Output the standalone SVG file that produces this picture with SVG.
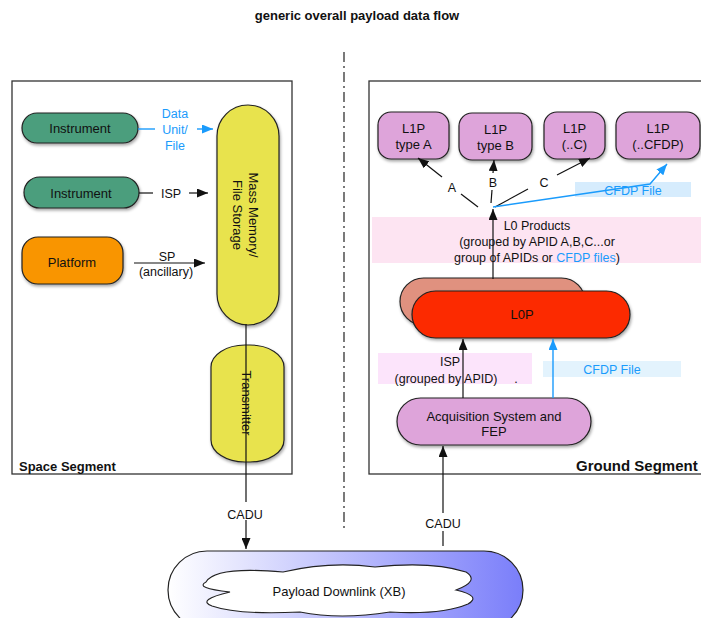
<svg xmlns="http://www.w3.org/2000/svg" width="701" height="618" viewBox="0 0 701 618">
<defs>
<style>
text{font-family:"Liberation Sans",Arial,sans-serif;font-size:13px;fill:#111;}
.c{text-anchor:middle;}
.b{font-weight:bold;}
.blue{fill:#1a9bfc;}
.seg{fill:#fff;stroke:#333;stroke-width:1.3;}
.node{stroke:#222;stroke-width:1.2;filter:url(#sh);}
.ln{stroke:#111;stroke-width:1.2;fill:none;}
.lb{stroke:#1a9bfc;stroke-width:1.4;fill:none;}
.green{fill:#4b9e7d;}
.orange{fill:#f99500;}
.yellow{fill:#e8e34e;}
.purple{fill:#dea4da;}
</style>
<filter id="sh" x="-20%" y="-20%" width="140%" height="150%">
<feDropShadow dx="1" dy="2" stdDeviation="1.5" flood-color="#000" flood-opacity="0.35"/>
</filter>
<marker id="ab" markerUnits="userSpaceOnUse" markerWidth="12" markerHeight="9" refX="11" refY="4.5" orient="auto">
<path d="M0,0 L11,4.5 L0,9 z" fill="#111"/>
</marker>
<marker id="abl" markerUnits="userSpaceOnUse" markerWidth="12" markerHeight="9" refX="11" refY="4.5" orient="auto">
<path d="M0,0 L11,4.5 L0,9 z" fill="#1a9bfc"/>
</marker>
<linearGradient id="gd" x1="0" y1="0" x2="1" y2="0">
<stop offset="0" stop-color="#ffffff"/>
<stop offset="1" stop-color="#7a7efa"/>
</linearGradient>
</defs>

<rect width="701" height="618" fill="#fff"/>
<text class="c b" x="357" y="20">generic overall payload data flow</text>

<g id="divider">
<line x1="344" y1="52" x2="344" y2="530" stroke="#222" stroke-width="1.2" stroke-dasharray="10 4 2 4"/>
</g>

<g id="space-segment">
<rect class="seg" x="12" y="81" width="280" height="393"/>
<text class="b" x="19" y="471">Space Segment</text>
</g>
<g id="ground-segment">
<rect class="seg" x="369" y="81" width="360" height="393"/>
<text class="b" x="576" y="471" style="font-size:15px">Ground Segment</text>
</g>

<g id="label-bgs">
<rect x="372" y="217" width="329" height="46" fill="#fde4f2"/>
<rect x="575" y="182" width="116" height="15" fill="#d6ecfd"/>
<rect x="378" y="353" width="154" height="31" fill="#fce4fb"/>
<rect x="543" y="361" width="138" height="16" fill="#e3f3fd"/>
</g>

<g id="instrument1"><rect class="node green" x="22" y="113" width="116" height="30" rx="15"/><text class="c" x="80" y="132.5">Instrument</text></g>
<g id="instrument2"><rect class="node green" x="24" y="177" width="115" height="31" rx="15.5"/><text class="c" x="81" y="197.5">Instrument</text></g>
<g id="platform"><rect class="node orange" x="22" y="237" width="101" height="47" rx="16"/><text class="c" x="72" y="266.5">Platform</text></g>
<g id="mass-memory"><rect class="node yellow" x="217" y="105" width="62" height="220" rx="31"/>
<g transform="translate(246,215) rotate(90)"><text class="c" x="0" y="-3">Mass Memory/</text><text class="c" x="0" y="13">File Storage</text></g></g>
<g id="transmitter"><rect class="node yellow" x="211" y="345" width="73" height="117" rx="34" ry="22"/>
<g transform="translate(246,403) rotate(90)"><text class="c" x="0" y="4.5">Transmitter</text></g></g>

<g id="l1p-a"><rect class="node purple" x="378" y="112" width="71" height="47" rx="13"/><text class="c" x="413.5" y="133">L1P</text><text class="c" x="413.5" y="149">type A</text></g>
<g id="l1p-b"><rect class="node purple" x="459" y="113" width="73" height="47" rx="13"/><text class="c" x="495.5" y="134">L1P</text><text class="c" x="495.5" y="150">type B</text></g>
<g id="l1p-c"><rect class="node purple" x="544" y="112" width="61" height="47" rx="13"/><text class="c" x="574.5" y="133">L1P</text><text class="c" x="574.5" y="149">(..C)</text></g>
<g id="l1p-cfdp"><rect class="node purple" x="616" y="112" width="84" height="47" rx="13"/><text class="c" x="658" y="133">L1P</text><text class="c" x="658" y="149">(..CFDP)</text></g>

<g id="l0p"><rect class="node" fill="#e0917f" x="400" y="278" width="185" height="47" rx="23.5"/><rect class="node" fill="#fc2a00" x="412" y="291" width="218" height="47" rx="23.5"/><text class="c" x="522" y="318.5">L0P</text></g>

<g id="acquisition"><rect class="node purple" x="397" y="398" width="194" height="47" rx="23.5"/><text class="c" x="494" y="420.5">Acquisition System and</text><text class="c" x="494" y="436">FEP</text></g>

<g id="payload-downlink">
<rect x="168" y="551" width="355" height="78" rx="39" fill="url(#gd)" stroke="#222" stroke-width="1.2"/>
<path d="M206 582 Q215 566 283 572 Q330 561 375 567 Q432 561 466 572 Q480 581 456 590 Q482 596 468 604 Q442 615 390 612 Q340 620 300 612 Q238 615 212 606 Q196 600 230 592 Q194 588 206 582 Z" fill="#fff" stroke="#222" stroke-width="1.1"/>
<text class="c" x="339" y="595.5">Payload Downlink (XB)</text>
</g>

<g id="connectors">
<line class="lb" x1="138" y1="129" x2="155" y2="129"/>
<line class="lb" x1="197" y1="129" x2="213" y2="129" marker-end="url(#abl)"/>
<line class="ln" x1="139" y1="193" x2="153" y2="193"/>
<line class="ln" x1="189" y1="193" x2="208" y2="193" marker-end="url(#ab)"/>
<line class="ln" x1="134" y1="263" x2="205" y2="263" marker-end="url(#ab)"/>
<line class="ln" x1="246" y1="324" x2="246" y2="502"/>
<line class="ln" x1="246" y1="520" x2="246" y2="549" marker-end="url(#ab)"/>
<line class="ln" x1="443" y1="546" x2="443" y2="531"/>
<line class="ln" x1="443" y1="513" x2="443" y2="446" marker-end="url(#ab)"/>
<line class="ln" x1="463" y1="398" x2="463" y2="339" marker-end="url(#ab)"/>
<line class="lb" x1="553" y1="398" x2="553" y2="339" marker-end="url(#abl)"/>
<line class="ln" x1="493" y1="279" x2="493" y2="209" marker-end="url(#ab)"/>
<line class="ln" x1="478" y1="207" x2="461" y2="194"/>
<line class="ln" x1="442" y1="177" x2="418" y2="158" marker-end="url(#ab)"/>
<line class="ln" x1="491" y1="203" x2="492" y2="190"/>
<line class="ln" x1="493" y1="173" x2="494" y2="160" marker-end="url(#ab)"/>
<line class="ln" x1="495" y1="207" x2="528" y2="189"/>
<line class="ln" x1="557" y1="175" x2="590" y2="158" marker-end="url(#ab)"/>
<polyline class="lb" points="493,207 650,184 667,164" marker-end="url(#abl)"/>
</g>

<g id="labels">
<text class="c blue" x="175" y="118" style="font-size:12.5px">Data</text>
<text class="c blue" x="175" y="134" style="font-size:12.5px">Unit/</text>
<text class="c blue" x="175" y="150" style="font-size:12.5px">File</text>
<text class="c" x="171" y="197.5" style="font-size:12.5px">ISP</text>
<text class="c" x="167" y="260.5" style="font-size:12.5px">SP</text>
<text class="c" x="166" y="276" style="font-size:12.5px">(ancillary)</text>
<text class="c" x="245" y="518.5" style="font-size:12.5px">CADU</text>
<text class="c" x="443" y="528" style="font-size:12.5px">CADU</text>
<text class="c" x="452" y="191.5" style="font-size:12.5px">A</text>
<text class="c" x="493" y="186.5" style="font-size:12.5px">B</text>
<text class="c" x="544" y="186.5" style="font-size:12.5px">C</text>
<text class="c blue" x="633" y="194.5" style="font-size:12.5px">CFDP File</text>
<text class="c" x="537" y="229.5" style="font-size:12.5px">L0 Products</text>
<text class="c" x="537" y="246" style="font-size:12.5px">(grouped by APID A,B,C...or</text>
<text class="c" x="537" y="261.5" style="font-size:12.5px">group of APIDs or <tspan class="blue">CFDP files</tspan>)</text>
<text class="c" x="450" y="365.5" style="font-size:12.5px">ISP</text>
<text class="c" x="446" y="382.5" style="font-size:12.5px">(grouped by APID)</text>
<text class="c" x="516" y="382.5" style="font-size:12.5px">.</text>
<text class="c blue" x="612" y="373.5" style="font-size:12.5px">CFDP File</text>
</g>
</svg>
